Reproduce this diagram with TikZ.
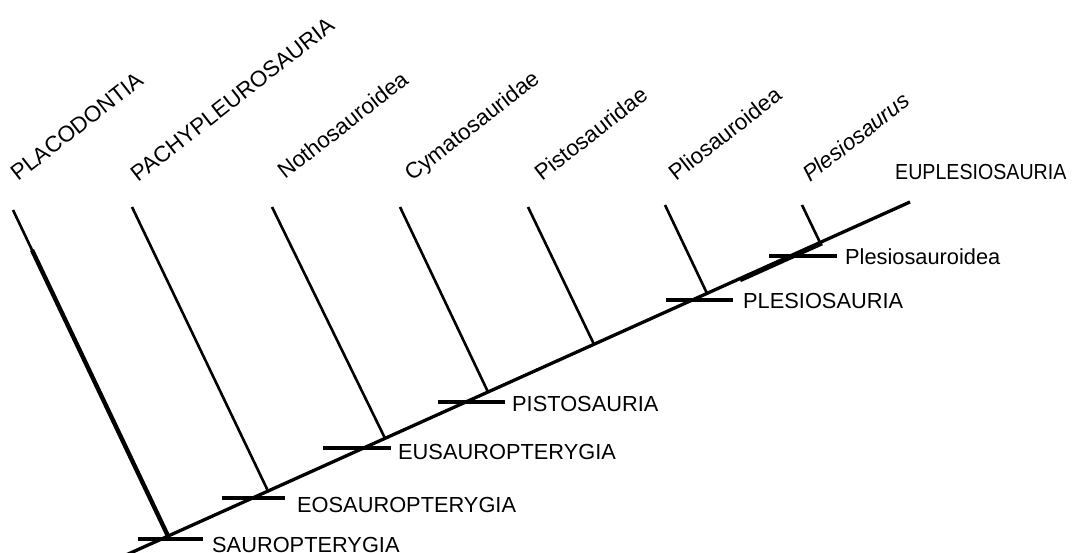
\documentclass[tikz,border=0pt]{standalone}
\usepackage{fontspec}
\setmainfont{Liberation Sans}
\begin{document}
\begin{tikzpicture}[x=1pt,y=-1pt,
  mainline/.style={line width=3.3pt},
  thickline/.style={line width=4.4pt},
  branch/.style={line width=2.6pt},
  tickline/.style={line width=3.2pt},
  clade/.style={anchor=base west, inner sep=0pt, font=\fontsize{21.8}{26}\selectfont},
  taxon/.style={anchor=base west, inner sep=0pt, rotate=38, font=\fontsize{22.4}{26}\selectfont}]
\useasboundingbox (0,0) rectangle (1077,553);
% main line
\coordinate (mstart) at (126,555);
\coordinate (root) at (168,536);
\coordinate (mend) at (910,202);
\draw[mainline] (mstart) -- (mend);
% branches
\coordinate (t1) at (13,210);   \coordinate (t1b) at (32,250);
\coordinate (t2) at (132,207);  \coordinate (j2) at (268,491);
\coordinate (t3) at (272,207);  \coordinate (j3) at (385,438.3);
\coordinate (t4) at (400,207);  \coordinate (j4) at (488,392);
\coordinate (t5) at (528,207);  \coordinate (j5) at (594,344.3);
\coordinate (t6) at (665,205);  \coordinate (j6) at (707,293.4);
\coordinate (t7) at (802,205);  \coordinate (j7) at (820,242.5);
\draw[branch] (t1) -- (root);
\draw[thickline] (t1b) -- (root);
\draw[branch] (t2) -- (j2);
\draw[branch] (t3) -- (j3);
\draw[branch] (t4) -- (j4);
\draw[branch] (t5) -- (j5);
\draw[branch] (t6) -- (j6);
\draw[branch] (t7) -- (j7);
% thicker stretch of main line
\coordinate (ea) at (740,280.1);
\coordinate (eb) at (822,243.2);
\draw[thickline] (ea) -- (eb);
% taxon labels
\node[taxon] (placo) at (18,182) {PLACODONTIA};
\node[taxon] (pachy) at (138,183) {PACHYPLEUROSAURIA};
\node[taxon] (notho) at (285,180) {Nothosauroidea};
\node[taxon] (cymato) at (412,182) {Cymatosauridae};
\node[taxon] (pisto) at (542,182) {Pistosauridae};
\node[taxon] (plio) at (676,182) {Pliosauroidea};
\node[taxon] (plesio) at (810,183) {\itshape Plesiosaurus};
% clade ticks and labels
\coordinate (k1a) at (138,539); \coordinate (k1b) at (203,539);
\coordinate (k2a) at (222,498); \coordinate (k2b) at (285,498);
\coordinate (k3a) at (323,448); \coordinate (k3b) at (391,448);
\coordinate (k4a) at (438,402); \coordinate (k4b) at (505,402);
\coordinate (k5a) at (666,300); \coordinate (k5b) at (733,300);
\coordinate (k6a) at (769,256); \coordinate (k6b) at (837,256);
\draw[tickline] (k1a) -- (k1b);
\draw[tickline] (k2a) -- (k2b);
\draw[tickline] (k3a) -- (k3b);
\draw[tickline] (k4a) -- (k4b);
\draw[tickline] (k5a) -- (k5b);
\draw[tickline] (k6a) -- (k6b);
\node[clade] (c1) at (212,552) {SAUROPTERYGIA};
\node[clade] (c2) at (297,512) {EOSAUROPTERYGIA};
\node[clade] (c3) at (398,460) {EUSAUROPTERYGIA};
\node[clade] (c4) at (512,411) {PISTOSAURIA};
\node[clade] (c5) at (743,309) {PLESIOSAURIA};
\node[clade] (c6) at (845,265) {Plesiosauroidea};
\node[clade, xscale=0.9] (c7) at (895,180) {EUPLESIOSAURIA};
\end{tikzpicture}
\end{document}
